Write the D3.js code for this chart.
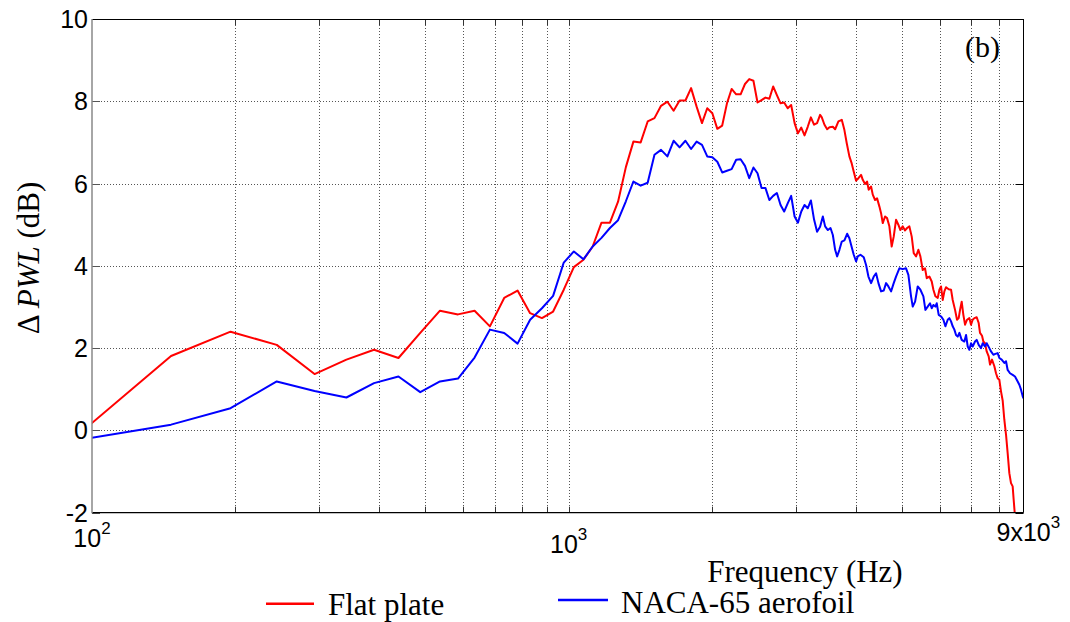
<!DOCTYPE html>
<html>
<head>
<meta charset="utf-8">
<script src="https://cdn.jsdelivr.net/npm/d3@7"></script>
<style>
  html, body { margin: 0; padding: 0; background: #fff; }
  svg { display: block; }
</style>
</head>
<body>
<svg id="chart" width="1070" height="622"></svg>
<script>
// ---------------- DATA ----------------
const flatFreq = [97.7,146.5,195.3,244.1,293.0,341.8,390.6,439.5,488.3,537.1,585.9,634.8,683.6,732.4,781.3,830.1,878.9,927.7,976.6,
  1025.4,1074.2,1123.0,1171.9,1220.7,1269.5,1318.4,1367.2,1416.0,1464.8,1513.7,1562.5,1611.3,1660.2,1709.0,1757.8,1806.6,1855.5,1904.3,1953.1,
  2001.9,2050.8,2099.6,2148.4,2197.3,2246.1,2294.9,2343.8,2392.6,2441.4,2490.2,2539.1,2587.9,2636.7,2685.5,2734.4,2783.2,2832.0,2880.9,2929.7,
  2978.5,3027.3,3076.2,3125.0,3173.8,3222.7,3271.5,3320.3,3369.1,3397,3441,3486,3526,3583,3623,3681,3741,3789,3832,3881,3925,3964,
  4009,4054,4107,4140,4187,4227,4261,4310,4345,4394,4437,4487,4523,4560,4611,4656,4708,4761,4808,4862,4917,4965,
  5021,5078,5129,5186,5245,5296,5356,5416,5469,5531,5594,5639,5712,5777,5824,5880,5947,5995,
  6043,6092,6141,6191,6271,6342,6393,6466,6528,6581,6624,6677,6731,6786,6852,6929,6985,
  7041,7098,7179,7248,7295,7366,7413,7473,7534,7607,7656,7730,7818,7881,7944,
  8009,8073,8140,8204,8271,8337,8405,8473,8541,8582,8624,8660];
const flatPlate = [0.08,1.81,2.40,2.08,1.37,1.72,1.96,1.76,2.37,2.91,2.82,2.91,2.53,3.22,3.40,2.85,2.73,2.89,3.42,
  3.97,4.15,4.47,5.05,5.05,5.56,6.40,7.02,7.00,7.51,7.59,7.89,7.99,7.77,8.02,8.02,8.32,7.87,7.47,7.83,
  7.71,7.33,7.41,7.95,8.30,8.17,8.17,8.42,8.54,8.50,7.97,8.03,8.09,8.06,8.36,8.15,7.95,7.97,7.83,7.91,
  7.47,7.22,7.36,7.17,7.38,7.61,7.43,7.47,7.67,7.61,7.43,7.32,7.37,7.38,7.32,7.51,7.55,7.30,6.98,6.66,6.49,6.29,
  6.07,6.13,6.21,6.09,5.99,6.05,5.85,5.93,5.73,5.60,5.64,5.44,5.28,5.04,5.20,5.16,4.96,4.47,4.71,5.12,5.00,4.87,
  4.96,4.86,4.92,4.96,4.71,4.31,4.23,4.39,4.23,3.90,3.94,3.70,3.74,3.62,3.42,3.26,3.22,3.42,
  3.50,3.17,3.38,3.48,3.43,3.42,3.17,2.93,2.69,2.73,2.93,3.13,2.81,2.57,2.69,2.73,2.57,
  2.69,2.73,2.75,2.61,2.37,2.30,2.16,2.12,1.92,1.80,1.60,1.72,1.56,1.39,1.27,
  1.23,0.95,0.72,0.26,-0.10,-0.55,-1.04,-1.28,-1.36,-1.68,-1.99,-2.40];

const nacaFreq = [97.7,146.5,195.3,244.1,293.0,341.8,390.6,439.5,488.3,537.1,585.9,634.8,683.6,732.4,781.3,830.1,878.9,927.7,976.6,
  1025.4,1074.2,1123.0,1171.9,1220.7,1269.5,1318.4,1367.2,1416.0,1464.8,1513.7,1562.5,1611.3,1660.2,1709.0,1757.8,1806.6,1855.5,1904.3,1953.1,
  2001.9,2050.8,2099.6,2148.4,2197.3,2246.1,2294.9,2343.8,2392.6,2441.4,2490.2,2539.1,2587.9,2636.7,2685.5,2734.4,2783.2,2832.0,2880.9,2929.7,
  2978.5,3027.3,3076.2,3125.0,3173.8,3222.7,3271.5,3320.3,3369.1,3414,3452,3498,3543,3583,3623,3658,3699,3741,3789,3839,3881,3913,3964,
  4009,4041,4094,4160,4207,4255,4310,4366,4415,4466,4523,4582,4634,4686,4747,4808,4862,4941,
  5021,5103,5161,5228,5271,5331,5399,5469,5549,5603,5666,5730,5777,5824,5880,5918,5975,
  6043,6112,6171,6241,6291,6342,6393,6445,6497,6550,6603,6677,6764,6819,6874,6929,6985,
  7041,7121,7179,7248,7330,7389,7473,7534,7631,7693,7781,7856,7944,
  8009,8099,8204,8271,8337,8432,8541,8638,8750,8821,8893,8965,9000];
const naca65 = [-0.20,0.14,0.54,1.19,0.96,0.80,1.15,1.31,0.93,1.19,1.26,1.77,2.45,2.37,2.11,2.69,2.97,3.27,4.08,
  4.35,4.16,4.47,4.68,4.92,5.11,5.57,6.05,5.95,6.02,6.70,6.82,6.66,7.04,6.88,7.04,6.84,7.02,6.94,6.66,
  6.64,6.53,6.27,6.31,6.35,6.58,6.59,6.43,6.13,6.39,6.25,5.89,5.89,5.60,5.70,5.77,5.48,5.32,5.52,5.70,
  5.20,5.05,5.32,5.48,5.40,5.59,5.13,4.83,4.95,5.20,4.96,4.87,4.92,4.75,4.39,4.23,4.39,4.59,4.62,4.78,4.67,4.51,4.27,
  4.11,4.23,4.27,4.21,4.02,3.74,3.58,3.74,3.82,3.58,3.38,3.40,3.58,3.50,3.38,3.58,3.74,3.94,
  3.92,3.94,3.78,3.26,3.01,3.13,3.50,3.42,3.26,2.93,3.01,3.09,2.97,3.05,3.01,3.09,2.81,
  2.77,2.69,2.53,2.69,2.73,2.65,2.53,2.45,2.32,2.28,2.37,2.20,2.16,2.32,2.04,1.96,2.12,
  2.04,2.16,2.20,2.08,2.00,2.12,2.04,2.12,2.00,1.92,1.84,1.86,1.88,
  1.76,1.72,1.64,1.68,1.47,1.39,1.35,1.31,1.19,1.11,0.99,0.83,0.78];

const yTicks = [-2, 0, 2, 4, 6, 8, 10];
const xGrid = [200,300,400,500,600,700,800,900,1000,2000,3000,4000,5000,6000,7000,8000];
const xLabels = [
  {v: 100,  base: "10",   exp: "2"},
  {v: 1000, base: "10",   exp: "3"},
  {v: 9000, base: "9x10", exp: "3"}
];
const seriesNames = ["Flat plate", "NACA-65 aerofoil"];
const seriesColors = ["#ff0000", "#0000ff"];

// ---------------- CHART ----------------
const svg = d3.select("#chart");
const L = 92, R = 1023.5, T = 19, B = 512.7;
const x = d3.scaleLog().domain([100, 9000]).range([L, R]);
const y = d3.scaleLinear().domain([-2, 10]).range([B, T]);

const sans = "'Liberation Sans', Arial, Helvetica, sans-serif";
const serif = "'Liberation Serif', 'Times New Roman', serif";

// grid
const grid = svg.append("g").attr("stroke", "#555").attr("stroke-width", 1).attr("stroke-dasharray", "1,2");
grid.selectAll("line.vx").data(xGrid).join("line")
  .attr("x1", d => Math.round(x(d)) + 0.5).attr("x2", d => Math.round(x(d)) + 0.5)
  .attr("y1", T).attr("y2", B);
grid.selectAll("line.hy").data(yTicks.filter(d => d > -2 && d < 10)).join("line")
  .attr("x1", L).attr("x2", R)
  .attr("y1", d => Math.round(y(d)) + 0.5).attr("y2", d => Math.round(y(d)) + 0.5);

// tick marks
const ticks = svg.append("g").attr("stroke-width", 1);
ticks.selectAll("line.lt").data(yTicks).join("line")
  .attr("stroke", "#555")
  .attr("x1", L).attr("x2", L + 8)
  .attr("y1", d => Math.round(y(d)) + 0.5).attr("y2", d => Math.round(y(d)) + 0.5);
ticks.selectAll("line.rt").data(yTicks).join("line")
  .attr("stroke", "#000")
  .attr("x1", R - 8).attr("x2", R)
  .attr("y1", d => Math.round(y(d)) + 0.5).attr("y2", d => Math.round(y(d)) + 0.5);
ticks.selectAll("line.bt").data(xGrid).join("line")
  .attr("stroke", "#333")
  .attr("x1", d => Math.round(x(d)) + 0.5).attr("x2", d => Math.round(x(d)) + 0.5)
  .attr("y1", B).attr("y2", B - 6);
ticks.selectAll("line.tt").data(xGrid).join("line")
  .attr("stroke", "#333")
  .attr("x1", d => Math.round(x(d)) + 0.5).attr("x2", d => Math.round(x(d)) + 0.5)
  .attr("y1", T).attr("y2", T + 6);

// clip
svg.append("clipPath").attr("id", "clip").append("rect")
  .attr("x", L).attr("y", T).attr("width", R - L).attr("height", B - T);

const line = d3.line().x(d => x(d[0])).y(d => y(d[1]));
const plotG = svg.append("g").attr("clip-path", "url(#clip)");
plotG.append("path")
  .datum(flatFreq.map((f, i) => [f, flatPlate[i]]))
  .attr("d", line).attr("fill", "none").attr("stroke", seriesColors[0])
  .attr("stroke-width", 2).attr("stroke-linejoin", "round");
plotG.append("path")
  .datum(nacaFreq.map((f, i) => [f, naca65[i]]))
  .attr("d", line).attr("fill", "none").attr("stroke", seriesColors[1])
  .attr("stroke-width", 2).attr("stroke-linejoin", "round");

// spines
svg.append("line").attr("x1", L).attr("x2", R).attr("y1", T + 0.5).attr("y2", T + 0.5).attr("stroke", "#000");
svg.append("line").attr("x1", L).attr("x2", R).attr("y1", B).attr("y2", B).attr("stroke", "#000").attr("stroke-width", 1.2);
svg.append("line").attr("x1", R).attr("x2", R).attr("y1", T).attr("y2", B).attr("stroke", "#000");
svg.append("line").attr("x1", L).attr("x2", L).attr("y1", T).attr("y2", B + 0.5).attr("stroke", "#888").attr("stroke-width", 1.5);

// y tick labels
svg.append("g").selectAll("text").data(yTicks).join("text")
  .attr("x", 88).attr("y", d => y(d)).attr("dy", "0.36em")
  .attr("text-anchor", "end").attr("font-family", sans).attr("font-size", 25)
  .attr("fill", "#000").text(d => d);

// x tick labels with superscripts
const xl = svg.append("g").attr("font-family", sans).attr("fill", "#000");
const xlPos = [
  {anchor: "middle", dx: 0, base: 546.7},
  {anchor: "middle", dx: 0, base: 552.7},
  {anchor: "start", dx: -27, base: 540.7}
];
xLabels.forEach((d, i) => {
  const t = xl.append("text")
    .attr("x", x(d.v) + xlPos[i].dx).attr("y", xlPos[i].base)
    .attr("text-anchor", xlPos[i].anchor).attr("font-size", 25);
  t.append("tspan").text(d.base);
  t.append("tspan").attr("font-size", 17).attr("dy", -13).text(d.exp);
});

// axis titles
svg.append("text")
  .attr("x", 805).attr("y", 582).attr("text-anchor", "middle")
  .attr("font-family", serif).attr("font-size", 31).attr("fill", "#000")
  .text("Frequency (Hz)");

const yt = svg.append("text")
  .attr("transform", "translate(39,258) rotate(-90)")
  .attr("text-anchor", "middle").attr("font-family", serif)
  .attr("font-size", 31).attr("fill", "#000");
yt.append("tspan").text("\u0394 ");
yt.append("tspan").attr("font-style", "italic").text("PWL");
yt.append("tspan").text(" (dB)");

// panel label
svg.append("text").attr("x", 1000).attr("y", 57).attr("text-anchor", "end")
  .attr("font-family", serif).attr("font-size", 30).attr("fill", "#000").text("(b)");

// legend
const legendPos = [
  {x1: 266, x2: 314, ly: 603.7, tx: 328, ty: 615},
  {x1: 558, x2: 608, ly: 600, tx: 621, ty: 613}
];
seriesNames.forEach((name, i) => {
  const p = legendPos[i];
  svg.append("line").attr("x1", p.x1).attr("x2", p.x2).attr("y1", p.ly).attr("y2", p.ly)
    .attr("stroke", seriesColors[i]).attr("stroke-width", 2.5);
  svg.append("text").attr("x", p.tx).attr("y", p.ty)
    .attr("font-family", serif).attr("font-size", 31).attr("fill", "#000").text(name);
});
</script>
</body>
</html>
